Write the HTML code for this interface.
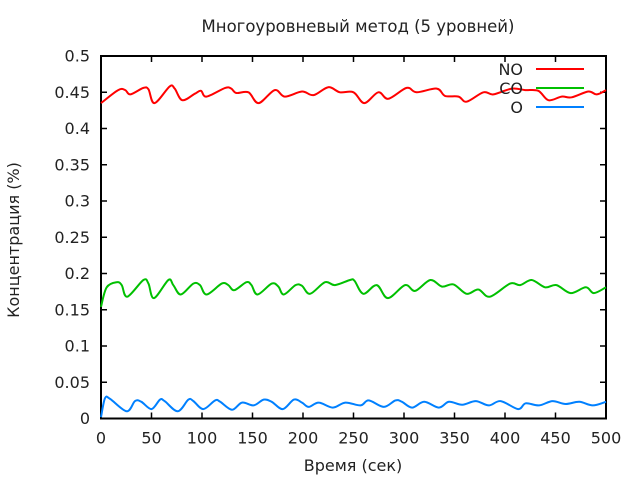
<!DOCTYPE html>
<html><head><meta charset="utf-8"><style>
body{margin:0;background:#fff;}
svg text{font-family:"DejaVu Sans","Liberation Sans",sans-serif;font-size:16px;fill:#222;}
</style></head><body>
<svg id="chart" width="640" height="480" xmlns="http://www.w3.org/2000/svg">
<text x="358" y="32" text-anchor="middle" style="font-size:16.5px">Многоуровневый метод (5 уровней)</text>
<text x="353" y="471" text-anchor="middle">Время (сек)</text>
<text transform="translate(19,240) rotate(-90)" text-anchor="middle">Концентрация (%)</text>
<g id="axes"></g>
<g id="series"></g>
<g id="legend"></g>
</svg>
<script>
const xTicks=[0,50,100,150,200,250,300,350,400,450,500];
const yTicks=[0,0.05,0.1,0.15,0.2,0.25,0.3,0.35,0.4,0.45,0.5];
const yTickLabels=["0","0.05","0.1","0.15","0.2","0.25","0.3","0.35","0.4","0.45","0.5"];
const seriesNames=["NO","CO","O"];
const noT=[0,17,24,29,42,47,53,68,73,80.5,93,99,104.5,123,129,134,146,156,172,182,199,210.5,225,236.5,250,260.7,274.6,284.5,302.6,312.5,332.4,340.6,354,362,378.6,388.5,406.6,420,433,443,456,466,482.5,490.8,500];
const noV=[0.435,0.453,0.453,0.447,0.456,0.454,0.435,0.458,0.455,0.439,0.448,0.452,0.444,0.456,0.455,0.449,0.450,0.435,0.453,0.444,0.451,0.446,0.457,0.450,0.450,0.435,0.450,0.441,0.456,0.450,0.455,0.445,0.444,0.437,0.450,0.447,0.455,0.453,0.452,0.439,0.444,0.443,0.451,0.447,0.453];
const coT=[0,5.6,15.5,20.5,26,42,47,52.5,66.7,71.6,79,91.4,98,104.6,119.5,126,132,144,149,155,169,175.6,181,192.6,199,207,221.8,231.7,246.5,251,259.7,273,284,301,311,326,337.6,349,362,373.6,385,405,415,426.4,439.6,451,465,480,488,500];
const coV=[0.154,0.181,0.188,0.184,0.168,0.191,0.186,0.166,0.191,0.184,0.171,0.186,0.184,0.171,0.186,0.184,0.177,0.188,0.184,0.171,0.186,0.182,0.171,0.184,0.183,0.172,0.188,0.184,0.191,0.190,0.172,0.184,0.166,0.184,0.176,0.191,0.182,0.185,0.172,0.178,0.168,0.186,0.184,0.191,0.181,0.184,0.173,0.181,0.173,0.181];
const oT=[0,4,9,25.4,33.7,40,50,58.4,63,76,86.5,91.5,101.3,113,118,129.7,139.6,151,161,169,180,191,199,205.6,215.6,229.5,242,257,265,280,291.6,298,308,320,334.5,344.5,357.6,371,384,395.7,413,420.5,433.7,447,460,473.6,486.8,500];
const oV=[0.002,0.028,0.027,0.010,0.024,0.023,0.013,0.026,0.024,0.010,0.026,0.024,0.013,0.025,0.023,0.012,0.022,0.018,0.026,0.023,0.013,0.026,0.022,0.016,0.022,0.015,0.022,0.018,0.025,0.016,0.025,0.023,0.015,0.023,0.015,0.023,0.019,0.024,0.018,0.024,0.013,0.021,0.018,0.024,0.020,0.023,0.018,0.023];
const L=101,R=606,T=56,B=418.5;
const xs=t=>L+(t/500)*(R-L);
const ys=v=>B-(v/0.5)*(B-T);
const NS="http://www.w3.org/2000/svg";
const axes=document.getElementById('axes');
function mk(tag,attrs,parent){const e=document.createElementNS(NS,tag);for(const k in attrs)e.setAttribute(k,attrs[k]);parent.appendChild(e);return e;}
const frame=mk('rect',{x:L,y:T,width:R-L,height:B-T,fill:'none',stroke:'#000','stroke-width':2},axes);


xTicks.forEach(t=>{
  const x=xs(t);
  const p=mk('path',{d:`M${x},${B}v-6M${x},${T}v6`,stroke:'#000','stroke-width':1.5},axes);
  
  
  const tx=mk('text',{x:x,y:B+25,'text-anchor':'middle'},axes);tx.textContent=t;
  
  
});
yTicks.forEach((v,i)=>{
  const y=ys(v);
  const p=mk('path',{d:`M${L},${y}h6M${R},${y}h-6`,stroke:'#000','stroke-width':1.5},axes);
  
  
  const tx=mk('text',{x:90,y:y+5.5,'text-anchor':'end'},axes);tx.textContent=yTickLabels[i];
  
  
});
function smooth(P){
  let d=`M${P[0][0].toFixed(1)},${P[0][1].toFixed(1)}`;
  for(let i=0;i<P.length-1;i++){
    const p0=P[i-1]||P[i],p1=P[i],p2=P[i+1],p3=P[i+2]||p2;
    const c1=[p1[0]+(p2[0]-p0[0])/6,p1[1]+(p2[1]-p0[1])/6];
    const c2=[p2[0]-(p3[0]-p1[0])/6,p2[1]-(p3[1]-p1[1])/6];
    d+=`C${c1[0].toFixed(1)},${c1[1].toFixed(1)} ${c2[0].toFixed(1)},${c2[1].toFixed(1)} ${p2[0].toFixed(1)},${p2[1].toFixed(1)}`;
  }
  return d;
}
const sg=document.getElementById('series');
const colors=['#ff0000','#00c000','#0080ff'];
[[noT,noV],[coT,coV],[oT,oV]].forEach((s,i)=>{
  const P=s[0].map((t,j)=>[xs(t),ys(s[1][j])]);
  const pl=mk('path',{d:smooth(P),fill:'none',stroke:colors[i],'stroke-width':2,'stroke-linejoin':'round'},sg);
  
  
});
const lg=document.getElementById('legend');
seriesNames.forEach((n,i)=>{
  const y=69+i*19;
  const tx=mk('text',{x:523,y:y+6,'text-anchor':'end'},lg);tx.textContent=n;
  
  
  const ln=mk('line',{x1:536,x2:584,y1:y,y2:y,stroke:colors[i],'stroke-width':2},lg);
  
  
});
</script>
</body></html>
